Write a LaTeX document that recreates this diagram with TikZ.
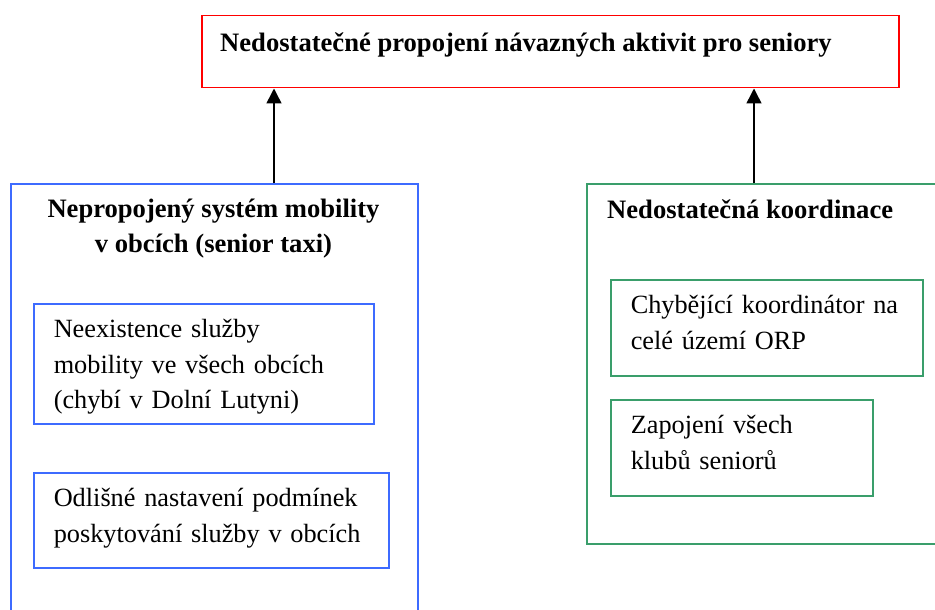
\documentclass[tikz,border=0pt]{standalone}
\usepackage{fontspec}
\setmainfont{Liberation Serif}
\usetikzlibrary{arrows.meta}
\definecolor{redline}{RGB}{255,0,0}
\definecolor{blueline}{RGB}{61,107,255}
\definecolor{greenline}{RGB}{58,158,107}

\begin{document}
\begin{tikzpicture}[x=1pt,y=-1pt,
  box/.style={draw,line width=1.5pt,rectangle,inner sep=0pt,anchor=north west},
  item/.style={draw,line width=1.5pt,rectangle,anchor=north west,align=left,
    inner xsep=20pt,inner ysep=0pt,font=\fontsize{26.3}{35.5}\selectfont,
    execute at begin node={\rule{0pt}{34pt}},
    execute at end node={\rule[-#1]{0pt}{#1}}},
  head/.style={inner sep=0pt,font=\fontsize{26.6}{35}\selectfont\bfseries},
  up/.style={line width=1.5pt,-{Triangle[width=15pt,length=15pt]}}]
\clip (0,0) rectangle (935,610);

% top problem
\node[box,draw=redline,minimum width=697pt,minimum height=72pt] (cil) at (201,15) {};
\node[head,anchor=base west] (cilt) at (220,52) {Nedostatečné propojení návazných aktivit pro seniory};

% mobility
\node[box,draw=blueline,minimum width=407pt,minimum height=450pt] (mob) at (10,183) {};
\node[head,anchor=north,align=center] (mobt) at (213.5,199) {Nepropojený systém mobility\\v obcích (senior taxi)};
\node[item=15pt,draw=blueline,text width=300pt] (mob1) at (33,303)
  {Neexistence služby\\mobility ve všech obcích\\(chybí v Dolní Lutyni)};
\node[item=25.5pt,draw=blueline,text width=315pt] (mob2) at (33,472)
  {Odlišné nastavení podmínek\\poskytování služby v obcích};

% coordination
\node[box,draw=greenline,minimum width=380pt,minimum height=360pt] (kor) at (586,183) {};
\node[head,anchor=base west] (kort) at (607,218) {Nedostatečná koordinace};
\node[item=26.5pt,draw=greenline,text width=272pt] (kor1) at (610,279)
  {Chybějící koordinátor na\\celé území ORP};
\node[item=26.5pt,draw=greenline,text width=222pt] (kor2) at (610,399)
  {Zapojení všech\\klubů seniorů};

% arrows
\coordinate (a1) at (274,183);
\coordinate (a2) at (754,183);
\draw[up] (a1) -- (a1 |- cil.south);
\draw[up] (a2) -- (a2 |- cil.south);
\end{tikzpicture}
\end{document}
